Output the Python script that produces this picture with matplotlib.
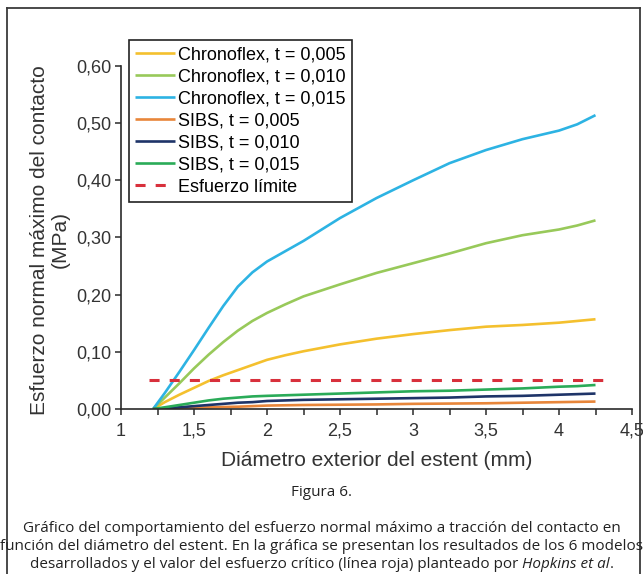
import numpy as np
import matplotlib
matplotlib.use("Agg")
import matplotlib.pyplot as plt
from matplotlib.lines import Line2D

# datos
diametro = [1.22, 1.3, 1.4, 1.5, 1.6, 1.7, 1.8, 1.9, 2.0, 2.125, 2.25, 2.5, 2.75,
            3.0, 3.25, 3.5, 3.75, 4.0, 4.125, 4.25]
chrono_005 = [0, 0.012, 0.025, 0.037, 0.049, 0.059, 0.068, 0.077, 0.086, 0.094,
              0.101, 0.113, 0.123, 0.131, 0.138, 0.144, 0.147, 0.151, 0.154, 0.157]
chrono_010 = [0, 0.020, 0.045, 0.071, 0.095, 0.117, 0.137, 0.154, 0.168, 0.183,
              0.197, 0.218, 0.238, 0.255, 0.272, 0.290, 0.304, 0.314, 0.321, 0.330]
chrono_015 = [0, 0.028, 0.065, 0.103, 0.142, 0.180, 0.214, 0.239, 0.258, 0.276,
              0.294, 0.334, 0.369, 0.400, 0.430, 0.453, 0.472, 0.487, 0.498, 0.514]
sibs_005 = [0, 0.0005, 0.001, 0.002, 0.003, 0.0035, 0.004, 0.005, 0.006, 0.0065,
            0.007, 0.0075, 0.008, 0.009, 0.0095, 0.010, 0.011, 0.012, 0.0125, 0.013]
sibs_010 = [0, 0.001, 0.003, 0.005, 0.007, 0.009, 0.011, 0.012, 0.014, 0.015,
            0.016, 0.017, 0.018, 0.019, 0.020, 0.022, 0.023, 0.025, 0.026, 0.027]
sibs_015 = [0, 0.003, 0.007, 0.011, 0.015, 0.018, 0.020, 0.022, 0.023, 0.024,
            0.025, 0.027, 0.029, 0.031, 0.032, 0.034, 0.036, 0.039, 0.040, 0.042]
limite_x = [1.19, 4.36]
limite_y = [0.05, 0.05]

etiquetas = ["Chronoflex, t = 0,005", "Chronoflex, t = 0,010", "Chronoflex, t = 0,015",
             "SIBS, t = 0,005", "SIBS, t = 0,010", "SIBS, t = 0,015", "Esfuerzo límite"]
colores = ["#f4c02e", "#98c95a", "#2db3e3", "#e8863a", "#1e3468", "#2aab58", "#d8303c"]

xticks = [1, 1.5, 2, 2.5, 3, 3.5, 4, 4.5]
xtick_labels = ["1", "1,5", "2", "2,5", "3", "3,5", "4", "4,5"]
yticks = [0, 0.1, 0.2, 0.3, 0.4, 0.5, 0.6]
ytick_labels = ["0,00", "0,10", "0,20", "0,30", "0,40", "0,50", "0,60"]

plt.rcParams['font.family'] = ['Liberation Sans', 'DejaVu Sans']

fig = plt.figure(figsize=(6.43, 5.74), dpi=100)
ax = fig.add_axes([121/643, 165/574, 511/643, 343/574])

series = [chrono_005, chrono_010, chrono_015, sibs_005, sibs_010, sibs_015]
for y, c, lab in zip(series, colores[:6], etiquetas[:6]):
    ax.plot(diametro, y, color=c, lw=1.9, label=lab, solid_capstyle='butt',
            solid_joinstyle='round')
ax.plot(limite_x, limite_y, color=colores[6], lw=2.2, ls=(0, (3.3, 3.3)),
        label=etiquetas[6])

ax.set_xlim(1, 4.5)
ax.set_ylim(0, 0.6)
ax.set_xticks(xticks)
ax.set_xticklabels(xtick_labels)
ax.set_xticks(np.arange(1.25, 4.5, 0.5), minor=True)
ax.set_yticks(yticks)
ax.set_yticklabels(ytick_labels)
for s in ['top', 'right']:
    ax.spines[s].set_visible(False)
for s in ['left', 'bottom']:
    ax.spines[s].set_linewidth(1.2)
    ax.spines[s].set_color('#2a2a2a')
ax.tick_params(which='both', direction='out', length=4, width=1.1, color='#2a2a2a',
               labelsize=13, labelcolor='#333333', pad=3)
ax.tick_params(axis='x', pad=6)

ax.set_xlabel("Diámetro exterior del estent (mm)", fontsize=15, color='#333333', labelpad=8)
fig.text(50/643, 1 - 240/574, "Esfuerzo normal máximo del contacto\n(MPa)", rotation=90,
         ha='center', va='center', multialignment='center', fontsize=15, color='#333333',
         linespacing=1.1)

leg = ax.legend(loc='upper left', bbox_to_anchor=(0.0157, 1.076), borderaxespad=0,
                fontsize=13, handlelength=2.2, handletextpad=0.15, labelspacing=0.28,
                borderpad=0.35, fancybox=False, framealpha=1, edgecolor='#222222')
leg.get_frame().set_linewidth(1.2)

# marco de la figura
marco = dict(color='#3a3a3a', lw=1.3, transform=fig.transFigure)
fig.add_artist(Line2D([7/643, 640/643], [1 - 8/574, 1 - 8/574], **marco))
fig.add_artist(Line2D([7/643, 7/643], [0, 1 - 8/574], **marco))
fig.add_artist(Line2D([640/643, 640/643], [0, 1 - 8/574], **marco))

# pie de figura
cap = dict(family=['Open Sans', 'DejaVu Sans'], fontsize=11, color='#222222')
fig.text(0.5, 1 - 493/574, "Figura 6.", ha='center', va='center', **cap)
fig.text(0.5, 1 - 528/574, "Gráfico del comportamiento del esfuerzo normal máximo a tracción del contacto en",
         ha='center', va='center', **cap)
fig.text(0.5, 1 - 546/574, "función del diámetro del estent. En la gráfica se presentan los resultados de los 6 modelos",
         ha='center', va='center', **cap)

# ultima linea con cursiva
renderer = fig.canvas.get_renderer()
partes = [("desarrollados y el valor del esfuerzo crítico (línea roja) planteado por ", 'normal'),
          ("Hopkins et al", 'italic'), (".", 'normal')]
textos = [fig.text(0, 1 - 564/574, t, ha='left', va='center', style=st, **cap) for t, st in partes]
anchos = [t.get_window_extent(renderer).width for t in textos]
x0 = (643 - sum(anchos)) / 2
for t, w in zip(textos, anchos):
    t.set_x(x0 / 643)
    x0 += w

fig.savefig("out.png", dpi=100)
